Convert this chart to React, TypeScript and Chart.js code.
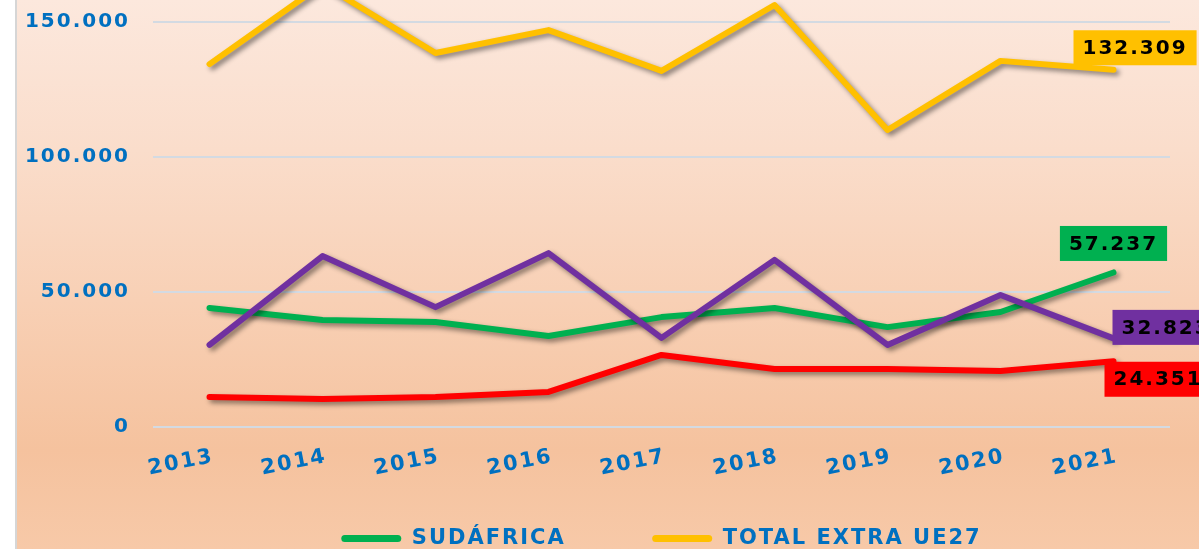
import React, { useEffect, useRef } from 'react';
import { Chart, registerables } from 'chart.js';

Chart.register(...registerables);

const years = ['2013', '2014', '2015', '2016', '2017', '2018', '2019', '2020', '2021'];
const sudafrica = [44100, 39600, 38900, 33700, 40700, 44100, 37000, 42600, 57237];
const totalExtraUE27 = [134400, 164000, 138500, 147000, 131900, 156300, 110000, 135600, 132309];
const egipto = [30400, 63300, 44400, 64400, 33000, 61900, 30400, 48900, 32823];
const marruecos = [11100, 10400, 11100, 13000, 26700, 21500, 21500, 20700, 24351];
const seriesNames = ['SUDÁFRICA', 'TOTAL EXTRA UE27', 'EGIPTO', 'MARRUECOS'];
const yMin = 0;
const yMax = 200000;
const yStep = 50000;

const FONT = 'DejaVu Sans';
const BLUE = '#0070C0';
const COLORS = ['#00B050', '#FFC000', '#7030A0', '#FF0000'];

const fmt = (v: number) => {
  const s = Math.round(v).toString();
  return s.replace(/\B(?=(\d{3})+(?!\d))/g, '.');
};

// label box placement relative to last point: ax = fraction of box width to the left, dx/dy px
const labelPlacement = [
  { ax: 0.5, dx: 0, dy: -29 },
  { ax: 0, dx: -40, dy: -22 },
  { ax: 0, dx: -1, dy: -11 },
  { ax: 0, dx: -9, dy: 18 },
];

const spacingPlugin = {
  id: 'spacing',
  beforeUpdate(chart: any) {
    chart.ctx.letterSpacing = '2px';
  },
  beforeDraw(chart: any) {
    chart.ctx.letterSpacing = '2px';
  },
};

const shadowPlugin = {
  id: 'lineShadow',
  beforeDatasetDraw(chart: any) {
    const ctx = chart.ctx;
    ctx.save();
    ctx.shadowColor = 'rgba(0,0,0,0.45)';
    ctx.shadowBlur = 5;
    ctx.shadowOffsetX = 3;
    ctx.shadowOffsetY = 3;
  },
  afterDatasetDraw(chart: any) {
    chart.ctx.restore();
  },
};

const endLabelPlugin = {
  id: 'endLabels',
  afterDatasetsDraw(chart: any) {
    const ctx = chart.ctx;
    const xs = chart.scales.x;
    const ys = chart.scales.y;
    chart.data.datasets.forEach((ds: any, i: number) => {
      const last = ds.data.length - 1;
      const v = ds.data[last];
      const px = xs.getPixelForValue(last);
      const py = ys.getPixelForValue(v);
      const text = fmt(v);
      ctx.save();
      ctx.letterSpacing = '2px';
      ctx.font = `bold 20px "${FONT}"`;
      const tw = ctx.measureText(text).width;
      const w = tw + 18;
      const h = 35;
      const p = labelPlacement[i];
      const left = px + p.dx - w * p.ax;
      const top = py + p.dy - h / 2;
      ctx.fillStyle = COLORS[i];
      ctx.fillRect(left, top, w, h);
      ctx.fillStyle = '#000';
      ctx.textBaseline = 'middle';
      ctx.textAlign = 'left';
      ctx.fillText(text, left + 9, top + h / 2 + 1);
      ctx.restore();
    });
  },
};

export default function App() {
  const ref = useRef<HTMLCanvasElement>(null);
  useEffect(() => {
    const canvas = ref.current!;
    const datasets = [sudafrica, totalExtraUE27, egipto, marruecos].map((d, i) => ({
      label: seriesNames[i],
      data: d,
      borderColor: COLORS[i],
      backgroundColor: COLORS[i],
      borderWidth: 6,
      borderCapStyle: 'round',
      borderJoinStyle: 'round',
      pointRadius: 0,
      tension: 0,
      order: [4, 1, 2, 3][i],
    }));
    const chart = new Chart(canvas, {
      type: 'line',
      data: { labels: years, datasets: datasets as any },
      options: {
        responsive: false,
        animation: false,
        devicePixelRatio: 1,
        layout: { padding: { top: 37, right: 153, left: 0, bottom: 0 } },
        plugins: {
          legend: {
            position: 'bottom',
            fullSize: false,
            labels: {
              filter: (item: any) => item.datasetIndex < 2,
              sort: (a: any, b: any) => a.datasetIndex - b.datasetIndex,
              generateLabels: (c: any) =>
                (Chart.defaults.plugins.legend.labels.generateLabels as any)(c).map((l: any) => ({
                  ...l,
                  text: l.datasetIndex === 0 ? l.text + '\u00A0\u00A0\u00A0\u00A0\u00A0' : l.text,
                  lineWidth: 0,
                  strokeStyle: 'rgba(0,0,0,0)',
                })),
              boxWidth: 60,
              boxHeight: 7,
              useBorderRadius: true,
              borderRadius: 3.5,
              padding: 40,
              color: BLUE,
              font: { family: FONT, size: 21, weight: 'bold' },
            },
          },
          tooltip: { enabled: false },
        },
        scales: {
          x: {
            offset: true,
            grid: { display: false, drawTicks: false, offset: true },
            border: { display: false },
            ticks: {
              color: BLUE,
              font: { family: FONT, size: 21, weight: 'bold' },
              minRotation: 11,
              maxRotation: 11,
              padding: 17,
              labelOffset: 4,
              autoSkip: false,
            },
            afterFit: (s: any) => {
              s.height = 61;
            },
          },
          y: {
            min: yMin,
            max: yMax,
            ticks: {
              stepSize: yStep,
              color: BLUE,
              font: { family: FONT, size: 20, weight: 'bold' },
              padding: 23,
              callback: (v: any) => fmt(Number(v)),
            },
            grid: { color: '#D3DAE2', lineWidth: 2, drawTicks: false },
            border: { display: false },
            afterFit: (s: any) => {
              s.width = 137;
            },
          },
        },
      } as any,
      plugins: [spacingPlugin, shadowPlugin, endLabelPlugin],
    });
    return () => chart.destroy();
  }, []);

  return (
    <div style={{ position: 'fixed', left: 0, top: 0, width: '100vw', height: '100vh', background: '#fff', overflow: 'hidden' }}>
      <div
        style={{
          position: 'absolute',
          left: 15,
          top: 0,
          right: 0,
          bottom: 0,
          borderLeft: '2px solid #D6D6D6',
          background: 'linear-gradient(to bottom, #FCE8DD 0px, #FADDCB 150px, #F8D0B5 300px, #F5C29E 450px, #F7C9A8 549px)',
        }}
      />
      <canvas ref={ref} width={1307} height={709} style={{ position: 'absolute', left: 16, top: -150 }} />
    </div>
  );
}
